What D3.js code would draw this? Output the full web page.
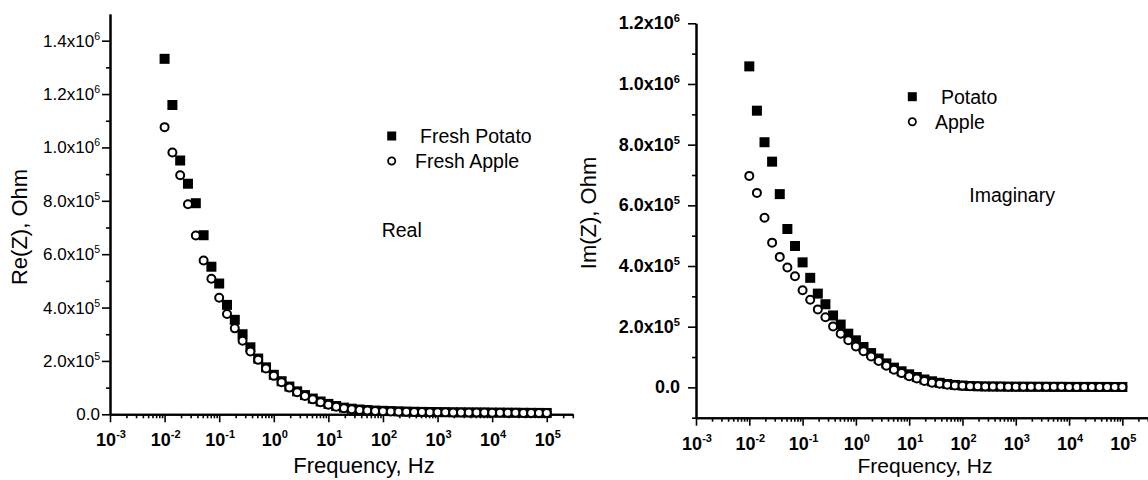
<!DOCTYPE html>
<html>
<head>
<meta charset="utf-8">
<script src="https://cdn.jsdelivr.net/npm/d3@7"></script>
<style>
  body { margin: 0; background: #fff; }
  svg { display: block; font-family: "Liberation Sans", Arial, sans-serif; }
</style>
</head>
<body>
<svg width="1148" height="480"></svg>
<script>
// frequencies, Hz (7 points per decade, 10 mHz .. 100 kHz)
var freq = [0.01, 0.0139, 0.0193, 0.0268, 0.0373, 0.0518, 0.072,
            0.1, 0.139, 0.193, 0.268, 0.373, 0.518, 0.72,
            1, 1.39, 1.93, 2.68, 3.73, 5.18, 7.2,
            10, 13.9, 19.3, 26.8, 37.3, 51.8, 72,
            100, 139, 193, 268, 373, 518, 720,
            1000, 1390, 1930, 2680, 3730, 5180, 7200,
            10000, 13900, 19300, 26800, 37300, 51800, 72000,
            100000];

// Re(Z), Ohm
var realPotato = [1332000, 1159000, 951000, 864000, 791000, 671000, 553000,
                  490000, 410000, 354000, 300000, 251000, 209000, 176000,
                  148000, 124000, 104000, 86000, 72000, 59000, 48000,
                  39000, 31000, 25000, 21000, 18000, 16000, 14000,
                  13000, 12000, 11000, 10000, 9500, 9000, 8600,
                  8200, 7900, 7600, 7300, 7000, 6800, 6600,
                  6400, 6200, 6000, 5800, 5600, 5400, 5200,
                  5000];
var realApple = [1076000, 981000, 896000, 787000, 670000, 576000, 508000,
                 437000, 376000, 322000, 276000, 235000, 204000, 172000,
                 144000, 120000, 100000, 82500, 69000, 56000, 45000,
                 36000, 28500, 22500, 19000, 16000, 14000, 12500,
                 11500, 10500, 9800, 9200, 8700, 8300, 8000,
                 7700, 7400, 7100, 6900, 6700, 6500, 6300,
                 6100, 5900, 5700, 5500, 5300, 5100, 4900,
                 4700];

// Im(Z), Ohm
var imagPotato = [1058000, 912000, 808000, 744000, 637000, 522000, 466000,
                  412000, 361000, 309000, 274000, 237000, 207000, 177000,
                  155000, 133000, 113000, 95000, 79000, 65000, 53000,
                  43000, 34000, 26000, 20000, 15000, 11000, 8000,
                  6000, 4500, 3500, 3000, 2700, 2500, 2300,
                  2200, 2100, 2000, 1900, 1800, 1700, 1700,
                  1600, 1600, 1500, 1500, 1400, 1400, 1300,
                  1300];
var imagApple = [697000, 641000, 559000, 477000, 430000, 395000, 366000,
                 320000, 289000, 257000, 231000, 201000, 177000, 155000,
                 135000, 119000, 102000, 87000, 71500, 58000, 47000,
                 37000, 29000, 21000, 15500, 12000, 9000, 6500,
                 5000, 4000, 3500, 3000, 2800, 2600, 2400,
                 2200, 2100, 2000, 1900, 1800, 1700, 1700,
                 1600, 1600, 1500, 1500, 1400, 1400, 1300,
                 1300];

var decades = [-3, -2, -1, 0, 1, 2, 3, 4, 5];
var realTicks = [0, 200000, 400000, 600000, 800000, 1000000, 1200000, 1400000];
var imagTicks = [0, 200000, 400000, 600000, 800000, 1000000, 1200000];

var svg = d3.select("svg");

function sciLabel(text, v) {
  if (v === 0) { text.text("0.0"); return; }
  var e = Math.floor(Math.log10(v) + 1e-9);
  var m = (v / Math.pow(10, e)).toFixed(1);
  text.append("tspan").text(m + "x10");
  text.append("tspan").attr("dy", -7).attr("font-size", "0.62em").text(e);
}

function panel(p) {
  var x = d3.scaleLog().domain([1e-3, 3e5]).range([p.left, p.right]);
  var y = d3.scaleLinear().domain(p.yDomain).range([p.bottom, p.top]);
  var g = svg.append("g");

  var majorX = decades.map(function (e) { return Math.pow(10, e); });
  var minorX = x.ticks().filter(function (v) {
    return Math.abs(Math.log10(v) - Math.round(Math.log10(v))) > 1e-6;
  });

  // x axis
  var gx = g.append("g").attr("transform", "translate(0," + p.bottom + ")");
  gx.append("g").call(d3.axisBottom(x).tickValues(minorX).tickSize(4).tickSizeOuter(0).tickFormat(""));
  gx.append("g").call(d3.axisBottom(x).tickValues(majorX).tickSize(8).tickSizeOuter(0).tickFormat(""));
  gx.selectAll(".domain").attr("stroke-width", 2);
  gx.selectAll(".tick line").attr("stroke-width", 1.6);

  majorX.forEach(function (v, i) {
    var t = g.append("text")
      .attr("x", x(v) + 1).attr("y", p.bottom + 32)
      .attr("text-anchor", "middle")
      .attr("font-size", 18).attr("font-weight", "bold");
    t.append("tspan").text("10");
    t.append("tspan").attr("dy", -8).attr("font-size", 11).text(decades[i]);
  });

  // y axis
  var minorY = p.yTicks.slice(0, -1).map(function (v) { return v + 100000; });
  if (p.yDomain[0] < 0) minorY.unshift(-100000);
  var gy = g.append("g").attr("transform", "translate(" + p.left + ",0)");
  gy.append("g").call(d3.axisLeft(y).tickValues(minorY).tickSize(4).tickSizeOuter(0).tickFormat(""));
  gy.append("g").call(d3.axisLeft(y).tickValues(p.yTicks).tickSize(8).tickSizeOuter(0).tickFormat(""));
  gy.selectAll(".domain").attr("stroke-width", 2);
  gy.selectAll(".tick line").attr("stroke-width", 1.6);

  p.yTicks.forEach(function (v) {
    var t = g.append("text")
      .attr("x", p.left - p.yGap).attr("y", y(v) + 6)
      .attr("text-anchor", "end")
      .attr("font-size", p.yFont).attr("font-weight", p.yBold ? "bold" : "normal");
    sciLabel(t, v);
  });

  // axis titles
  g.append("text")
    .attr("x", p.xTitleX).attr("y", 473)
    .attr("text-anchor", "middle").attr("font-size", p.xTitleSize)
    .text("Frequency, Hz");
  g.append("text")
    .attr("transform", "translate(" + p.titleX + "," + p.titleY + ") rotate(-90)")
    .attr("text-anchor", "middle").attr("font-size", 22)
    .text(p.yTitle);

  // data
  g.append("g").selectAll("rect").data(freq).join("rect")
    .attr("x", function (d) { return x(d) - 5; })
    .attr("y", function (d, i) { return y(p.sq[i]) - 5; })
    .attr("width", 10).attr("height", 10)
    .attr("fill", "#000");
  g.append("g").selectAll("circle").data(freq).join("circle")
    .attr("cx", function (d) { return x(d); })
    .attr("cy", function (d, i) { return y(p.ci[i]); })
    .attr("r", 4)
    .attr("fill", "#fff").attr("stroke", "#000").attr("stroke-width", 2);

  // legend
  var lg = g.append("g").attr("font-size", 19.5);
  lg.append("rect").attr("x", p.leg.x - 4.5).attr("y", p.leg.y - 4.5)
    .attr("width", 9).attr("height", 9).attr("fill", "#000");
  lg.append("text").attr("x", p.leg.t1).attr("y", p.leg.y + 7).text(p.names[0]);
  lg.append("circle").attr("cx", p.leg.x).attr("cy", p.leg.y + 25).attr("r", 3.6)
    .attr("fill", "#fff").attr("stroke", "#000").attr("stroke-width", 1.8);
  lg.append("text").attr("x", p.leg.t2).attr("y", p.leg.y + 32).text(p.names[1]);
  lg.append("text").attr("x", p.note.x).attr("y", p.note.y).text(p.note.text);
}

panel({
  left: 110, right: 572.8, top: 14, bottom: 414.3,
  yDomain: [0, 1500000], yTicks: realTicks, yFont: 17, yBold: false, yGap: 10,
  yTitle: "Re(Z), Ohm", titleX: 27, titleY: 227,
  xTitleX: 364, xTitleSize: 22,
  sq: realPotato, ci: realApple,
  names: ["Fresh Potato", "Fresh Apple"],
  leg: { x: 391.7, y: 136, t1: 420, t2: 415 },
  note: { x: 381.7, y: 237.3, text: "Real" }
});

panel({
  left: 696, right: 1147.8, top: 23.3, bottom: 417.7,
  yDomain: [-100000, 1200000], yTicks: imagTicks, yFont: 18, yBold: true, yGap: 16,
  yTitle: "Im(Z), Ohm", titleX: 596, titleY: 213,
  xTitleX: 925, xTitleSize: 21,
  sq: imagPotato, ci: imagApple,
  names: ["Potato", "Apple"],
  leg: { x: 912.3, y: 96.7, t1: 941, t2: 935 },
  note: { x: 969.3, y: 201.7, text: "Imaginary" }
});
</script>
</body>
</html>
